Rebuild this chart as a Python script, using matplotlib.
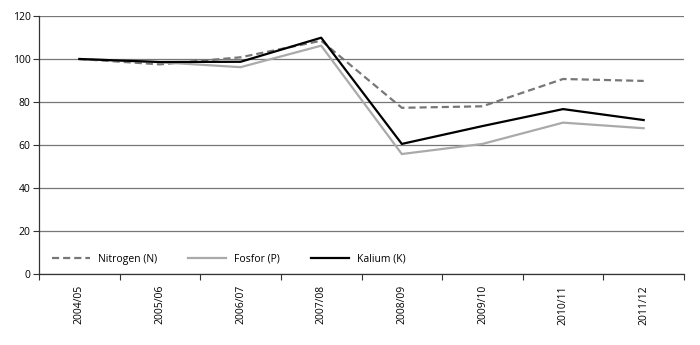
import matplotlib
matplotlib.use("Agg")
import matplotlib.pyplot as plt
import numpy as np

categories = ["2004/05", "2005/06", "2006/07", "2007/08", "2008/09", "2009/10", "2010/11", "2011/12"]
nitrogen = [100, 97.5, 100.8, 108.5, 77.3, 78.0, 90.7, 89.8]
fosfor = [100, 98.5, 96.2, 106.2, 55.8, 60.5, 70.4, 67.8]
kalium = [100, 98.6, 98.7, 109.9, 60.5, 68.8, 76.7, 71.6]
y_ticks = [0, 20, 40, 60, 80, 100, 120]

plt.rcParams['font.family'] = ['Open Sans', 'DejaVu Sans']

fig = plt.figure(figsize=(7.0, 3.45), dpi=100)
ax = fig.add_axes([39/700, 1-274/345, (684-39)/700, (274-16)/345])

x = np.arange(len(categories))
ax.plot(x, nitrogen, color="#777777", lw=1.6, ls=(0, (3.2, 1.8)), label="Nitrogen (N)", zorder=3)
ax.plot(x, fosfor, color="#aaaaaa", lw=1.6, label="Fosfor (P)", zorder=3)
ax.plot(x, kalium, color="black", lw=1.6, label="Kalium (K)", zorder=4)

ax.set_xlim(-0.5, len(categories) - 0.5)
ax.set_ylim(0, 120)
ax.set_yticks(y_ticks)
ax.set_yticklabels([str(v) for v in y_ticks], fontsize=7.5)
ax.yaxis.grid(True, color="#777777", lw=0.9)
ax.set_axisbelow(True)

ax.set_xticks(np.arange(len(categories) + 1) - 0.5)
ax.set_xticklabels([])
ax.set_xticks(x, minor=True)
ax.set_xticklabels(categories, minor=True, rotation=90, fontsize=7.5)
ax.tick_params(axis="x", which="minor", length=0, pad=8)
ax.tick_params(axis="x", which="major", length=4, width=0.8, color="#333333", direction="out")
ax.tick_params(axis="y", length=4, width=0.8, color="#333333", pad=2)

for s in ["top", "right"]:
    ax.spines[s].set_visible(False)
for s in ["left", "bottom"]:
    ax.spines[s].set_color("#333333")
    ax.spines[s].set_linewidth(0.9)

leg = ax.legend(loc="lower left", bbox_to_anchor=(0.006, 0.0), ncol=3, frameon=False,
                fontsize=7.5, handlelength=3.6, handletextpad=0.8, columnspacing=3.0)

fig.savefig("out.png", dpi=100)
